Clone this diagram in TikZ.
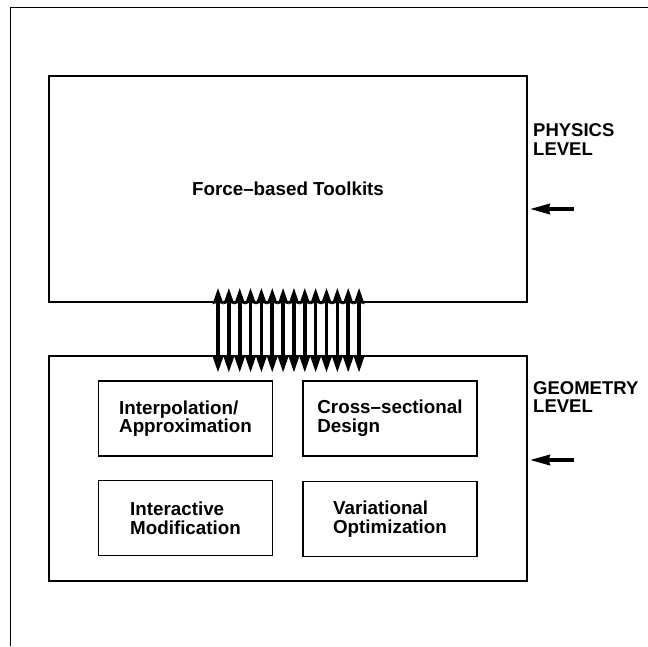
\documentclass[tikz,border=0pt]{standalone}
\usepackage{fontspec}
\setmainfont{Liberation Sans}
\usetikzlibrary{arrows.meta}

\begin{document}
\begin{tikzpicture}[x = 1pt, y = -1pt,
        level/.style = {draw, rectangle, line width = 1.2pt, minimum width = 478pt, font = \bfseries\fontsize{18.8}{18.7}\selectfont},
        method/.style = {draw, rectangle, line width = 1.2pt, minimum width = 174pt, minimum height = 75pt, align = left, font = \bfseries\fontsize{18.8}{18.7}\selectfont},
        tag/.style = {anchor = base west, inner sep = 0pt, align = left, font = \bfseries\fontsize{18.5}{18.4}\selectfont},
        bothways/.style = {<->, > = {Stealth[length = 16pt, width = 10pt, inset = 1pt]}, line width = 3.6pt},
        pointer/.style = {->, > = {Stealth[length = 20pt, width = 10pt, inset = 1pt]}, line width = 4pt}]
        \useasboundingbox (0, 0) rectangle (648, 646);
        % Frame
        \draw [line width = 1pt] (648, 7.5) -- (10, 7.5) -- (10, 646);
        % Nodes
        \node [level, minimum height = 226pt] (phys) at (288, 189) {Force--based Toolkits};
        \node [level, minimum height = 225pt] (geom) at (288, 468.5) {};
        \node [method] (interp) at (185.5, 418.5) {Interpolation/\\Approximation};
        \node [method] (cross) at (390, 418.5) {Cross--sectional\\Design};
        \node [method] (inter) at (185.5, 518) {Interactive\\Modification};
        \node [method] (var) at (390, 519) {Variational\\Optimization};
        \node [tag] (physlbl) at (533, 155) {PHYSICS\\LEVEL};
        \node [tag] (geomlbl) at (533, 412.5) {GEOMETRY\\LEVEL};
        % Links between the two levels
        \foreach \x in {218, 228.85, ..., 360}
            \draw [bothways] (\x, 0 |- phys.south) ++(0, -15) -- ++(0, 85);
        % Pointers to the levels
        \coordinate (physptr) at (574, 209);
        \coordinate (geomptr) at (574, 460);
        \draw [pointer] (physptr) -- ([xshift = 2pt] physptr -| phys.east);
        \draw [pointer] (geomptr) -- ([xshift = 2pt] geomptr -| geom.east);
    \end{tikzpicture}
\end{document}
